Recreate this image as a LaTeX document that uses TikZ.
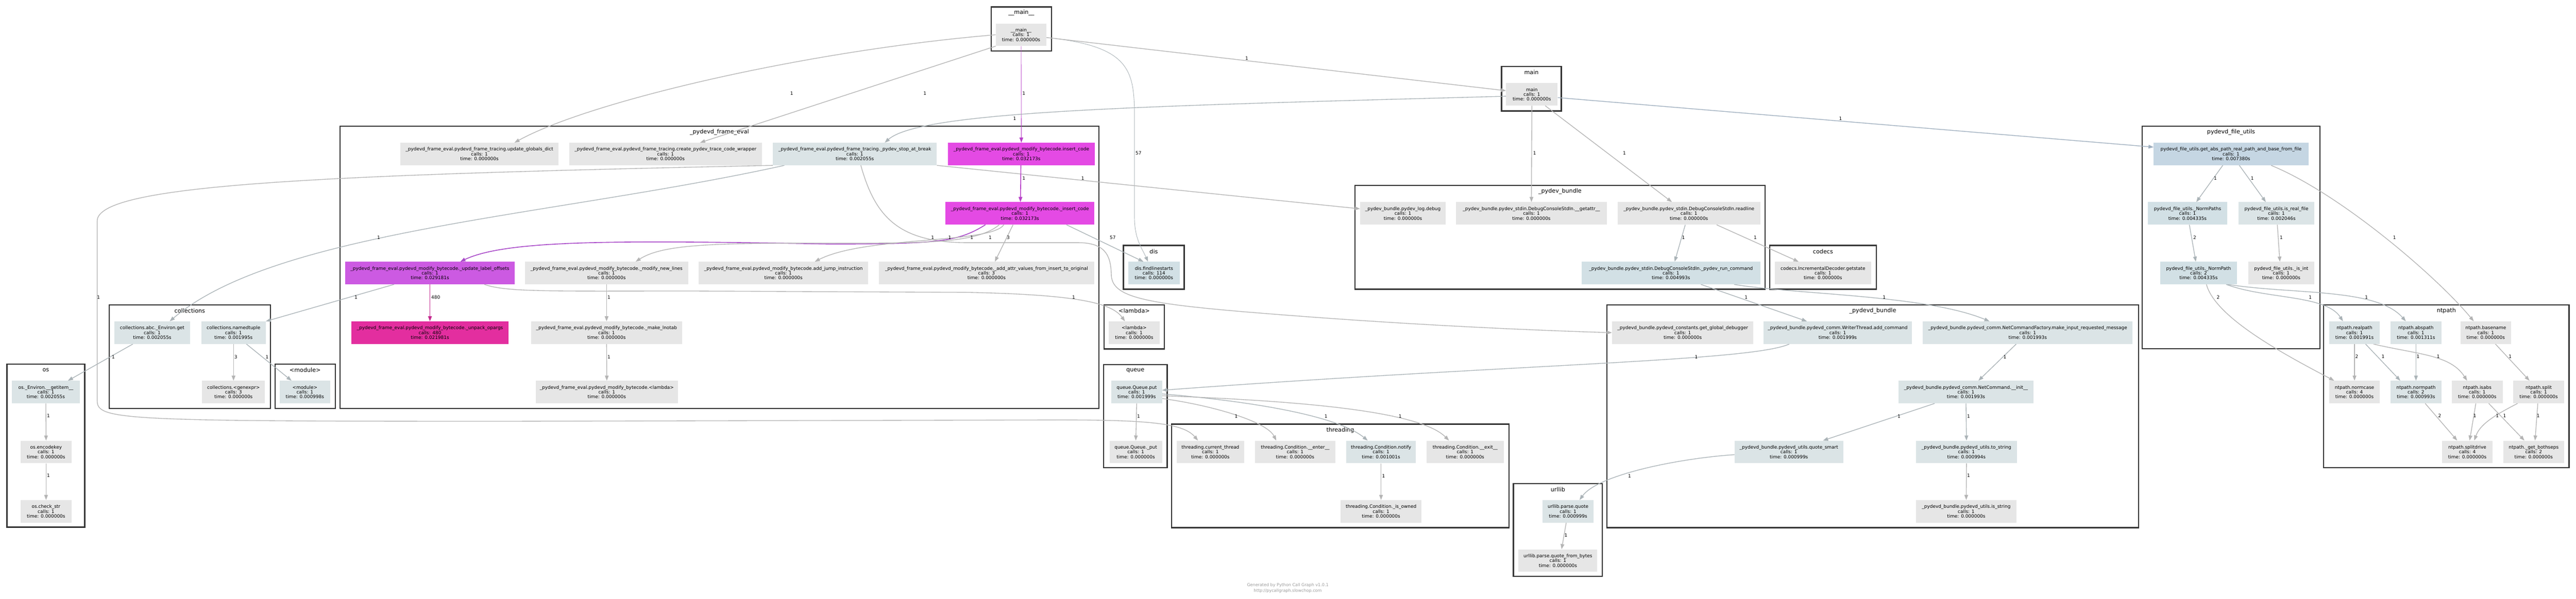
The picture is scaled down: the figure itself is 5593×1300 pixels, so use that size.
\documentclass[tikz,border=0pt]{standalone}
\usepackage{fontspec}
\setmainfont{DejaVu Sans}
\usetikzlibrary{arrows.meta}
\pgfdeclarelayer{bg}
\pgfsetlayers{bg,main}
\definecolor{cgrey}{HTML}{E6E6E6}
\definecolor{cbg}{HTML}{DBE4E6}
\definecolor{cbla}{HTML}{D2E0E5}
\definecolor{cblb}{HTML}{C5D6E3}
\definecolor{cmag}{HTML}{E44AE4}
\definecolor{cpur}{HTML}{CC5AE2}
\definecolor{cpink}{HTML}{E32E9F}
\definecolor{egc}{HTML}{B4B4B4}
\definecolor{ebgc}{HTML}{AAB3B7}
\definecolor{eblc}{HTML}{9DADBD}
\definecolor{emagc}{HTML}{B840C8}
\definecolor{epurc}{HTML}{A848C8}
\definecolor{epinkc}{HTML}{C4288E}
\definecolor{clc}{HTML}{333333}
\definecolor{footc}{HTML}{9A9A9A}
\newcommand{\cgNodeFont}{\fontsize{10}{10.5}\selectfont}
\newcommand{\cgClFont}{\fontsize{12.5}{14}\selectfont}
\newcommand{\cgElFont}{\fontsize{10}{12}\selectfont}
\newcommand{\cgFtFont}{\fontsize{9}{12}\selectfont}
\newcommand{\cgn}[8]{\node[cgbox,fill=#5,minimum width=#4pt] (#1) at (#2,#3) {#6\\calls: #7\\time: #8s};}
\newcommand{\cgc}[6]{\draw[clbox] (#2,#3) rectangle (#4,#5); \node[cllab] (#1) at ({(#2+#4)/2},{#3+13}) {#6};}
\newcommand{\cgl}[4]{\node[elab] (#1) at (#2,#3) {#4};}
\begin{document}
\begin{tikzpicture}[x=1pt,y=-1pt,
  cgbox/.style={rectangle,draw=none,minimum height=49pt,inner xsep=2pt,inner ysep=1pt,align=center,font=\cgNodeFont,text=black},
  clbox/.style={draw=clc,line width=2.6pt},
  cllab/.style={font=\cgClFont,inner sep=0pt,text=black},
  elab/.style={font=\cgElFont,inner sep=0pt,text=black},
  ed/.style={draw=egc,line width=1.5pt,-{Triangle[length=11pt,width=8pt]}},
  edb/.style={ed,draw=ebgc},
  edl/.style={ed,draw=eblc},
  edm/.style={ed,draw=emagc},
  edp/.style={ed,draw=epurc},
  edk/.style={ed,draw=epinkc},
  foot/.style={font=\cgFtFont,text=footc,align=center,inner sep=0pt}]
\useasboundingbox (0,0) rectangle (5593,1300);
% ---------- nodes ----------
\cgn{mainmain}{2217}{75.5}{110}{cgrey}{\_\_main\_\_}{1}{0.000000}
\cgn{main}{3326}{205}{112}{cgrey}{main}{1}{0.000000}
\cgn{ugd}{1041}{334.5}{344}{cgrey}{\_pydevd\_frame\_eval.pydevd\_frame\_tracing.update\_globals\_dict}{1}{0.000000}
\cgn{cptcw}{1445}{334.5}{418}{cgrey}{\_pydevd\_frame\_eval.pydevd\_frame\_tracing.create\_pydev\_trace\_code\_wrapper}{1}{0.000000}
\cgn{psab}{1856}{334.5}{356}{cbg}{\_pydevd\_frame\_eval.pydevd\_frame\_tracing.\_pydev\_stop\_at\_break}{1}{0.002055}
\cgn{ic}{2217.5}{334.5}{319}{cmag}{\_pydevd\_frame\_eval.pydevd\_modify\_bytecode.insert\_code}{1}{0.032173}
\cgn{icc}{2214.5}{463.5}{323}{cmag}{\_pydevd\_frame\_eval.pydevd\_modify\_bytecode.\_insert\_code}{1}{0.032173}
\cgn{ulo}{933.5}{593}{369}{cpur}{\_pydevd\_frame\_eval.pydevd\_modify\_bytecode.\_update\_label\_offsets}{1}{0.029181}
\cgn{mnl}{1317}{593}{354}{cgrey}{\_pydevd\_frame\_eval.pydevd\_modify\_bytecode.\_modify\_new\_lines}{1}{0.000000}
\cgn{aji}{1701}{593}{368}{cgrey}{\_pydevd\_frame\_eval.pydevd\_modify\_bytecode.add\_jump\_instruction}{1}{0.000000}
\cgn{aav}{2142}{593}{468}{cgrey}{\_pydevd\_frame\_eval.pydevd\_modify\_bytecode.\_add\_attr\_values\_from\_insert\_to\_original}{3}{0.000000}
\cgn{uo}{933.5}{722.5}{341}{cpink}{\_pydevd\_frame\_eval.pydevd\_modify\_bytecode.\_unpack\_opargs}{480}{0.021981}
\cgn{mlt}{1317}{722.5}{328}{cgrey}{\_pydevd\_frame\_eval.pydevd\_modify\_bytecode.\_make\_lnotab}{1}{0.000000}
\cgn{lam}{1317.5}{851.5}{309}{cgrey}{\_pydevd\_frame\_eval.pydevd\_modify\_bytecode.<lambda>}{1}{0.000000}
\cgn{dfl}{2505.5}{593}{111}{cbla}{dis.findlinestarts}{114}{0.000000}
\cgn{lamb}{2462.5}{722.5}{111}{cgrey}{<lambda>}{1}{0.000000}
\cgn{pld}{3046}{463.5}{186}{cgrey}{\_pydev\_bundle.pydev\_log.debug}{1}{0.000000}
\cgn{ga}{3325}{463.5}{328}{cgrey}{\_pydev\_bundle.pydev\_stdin.DebugConsoleStdIn.\_\_getattr\_\_}{1}{0.000000}
\cgn{rl}{3667}{463.5}{310}{cgrey}{\_pydev\_bundle.pydev\_stdin.DebugConsoleStdIn.readline}{1}{0.000000}
\cgn{prc}{3628}{593}{388}{cbla}{\_pydev\_bundle.pydev\_stdin.DebugConsoleStdIn.\_pydev\_run\_command}{1}{0.004993}
\cgn{cig}{3958}{593}{210}{cgrey}{codecs.IncrementalDecoder.getstate}{1}{0.000000}
\cgn{gap}{4844}{334.5}{336}{cblb}{pydevd\_file\_utils.get\_abs\_path\_real\_path\_and\_base\_from\_file}{1}{0.007380}
\cgn{nps}{4749.5}{463.5}{173}{cbla}{pydevd\_file\_utils.\_NormPaths}{1}{0.004335}
\cgn{irf}{4942.5}{463.5}{165}{cbg}{pydevd\_file\_utils.is\_real\_file}{1}{0.002046}
\cgn{np}{4773.5}{593}{167}{cbla}{pydevd\_file\_utils.\_NormPath}{2}{0.004335}
\cgn{ii}{4953}{593}{144}{cgrey}{pydevd\_file\_utils.\_is\_int}{1}{0.000000}
\cgn{eg}{330.5}{722.5}{165}{cbg}{collections.abc.\_Environ.get}{1}{0.002055}
\cgn{nt}{507}{722.5}{140}{cbg}{collections.namedtuple}{1}{0.001995}
\cgn{ge}{507}{851.5}{136}{cgrey}{collections.<genexpr>}{3}{0.000000}
\cgn{egi}{99.5}{851.5}{147}{cbg}{os.\_Environ.\_\_getitem\_\_}{1}{0.002055}
\cgn{ek}{100}{981.5}{110}{cgrey}{os.encodekey}{1}{0.000000}
\cgn{cs}{100}{1110.5}{110}{cgrey}{os.check\_str}{1}{0.000000}
\cgn{mod}{662}{851.5}{110}{cbg}{<module>}{1}{0.000998}
\cgn{qp}{2468}{851.5}{110}{cbg}{queue.Queue.put}{1}{0.001999}
\cgn{qpp}{2466}{981.5}{114}{cgrey}{queue.Queue.\_put}{1}{0.000000}
\cgn{ct}{2628}{981.5}{146}{cgrey}{threading.current\_thread}{1}{0.000000}
\cgn{ce}{2812}{981.5}{174}{cgrey}{threading.Condition.\_\_enter\_\_}{1}{0.000000}
\cgn{cn}{2998.5}{981.5}{151}{cbg}{threading.Condition.notify}{1}{0.001001}
\cgn{cx}{3181}{981.5}{168}{cgrey}{threading.Condition.\_\_exit\_\_}{1}{0.000000}
\cgn{cio}{2998.5}{1110.5}{175}{cgrey}{threading.Condition.\_is\_owned}{1}{0.000000}
\cgn{upq}{3404.5}{1110.5}{111}{cbg}{urllib.parse.quote}{1}{0.000999}
\cgn{upqb}{3382.5}{1217.5}{171}{cgrey}{urllib.parse.quote\_from\_bytes}{1}{0.000000}
\cgn{ggd}{3653.5}{722.5}{307}{cgrey}{\_pydevd\_bundle.pydevd\_constants.get\_global\_debugger}{1}{0.000000}
\cgn{wac}{3990}{722.5}{322}{cbg}{\_pydevd\_bundle.pydevd\_comm.WriterThread.add\_command}{1}{0.001999}
\cgn{mirm}{4402.5}{722.5}{455}{cbg}{\_pydevd\_bundle.pydevd\_comm.NetCommandFactory.make\_input\_requested\_message}{1}{0.001993}
\cgn{nci}{4268.5}{851.5}{293}{cbg}{\_pydevd\_bundle.pydevd\_comm.NetCommand.\_\_init\_\_}{1}{0.001993}
\cgn{qs}{3884}{981.5}{236}{cbg}{\_pydevd\_bundle.pydevd\_utils.quote\_smart}{1}{0.000999}
\cgn{ts}{4269.5}{981.5}{219}{cbg}{\_pydevd\_bundle.pydevd\_utils.to\_string}{1}{0.000994}
\cgn{iss}{4269}{1110.5}{218}{cgrey}{\_pydevd\_bundle.pydevd\_utils.is\_string}{1}{0.000000}
\cgn{rp}{5112}{722.5}{110}{cbg}{ntpath.realpath}{1}{0.001991}
\cgn{ap}{5245.5}{722.5}{111}{cbg}{ntpath.abspath}{1}{0.001311}
\cgn{bn}{5397}{722.5}{110}{cgrey}{ntpath.basename}{1}{0.000000}
\cgn{nc}{5112}{851.5}{110}{cgrey}{ntpath.normcase}{4}{0.000000}
\cgn{npth}{5245.5}{851.5}{111}{cbg}{ntpath.normpath}{2}{0.000993}
\cgn{ia}{5378.5}{851.5}{111}{cgrey}{ntpath.isabs}{1}{0.000000}
\cgn{sp}{5512}{851.5}{110}{cgrey}{ntpath.split}{1}{0.000000}
\cgn{sd}{5357}{981.5}{110}{cgrey}{ntpath.splitdrive}{4}{0.000000}
\cgn{gb}{5501}{981.5}{132}{cgrey}{ntpath.\_get\_bothseps}{2}{0.000000}
% ---------- clusters and edges ----------
\begin{pgfonlayer}{bg}
\fill[white] (0,0) rectangle (5593,1300);
\cgc{kmain}{2152}{15}{2283}{111}{\_\_main\_\_}
\cgc{kmn}{3260}{144}{3390}{241}{main}
\cgc{kfe}{738}{274}{2386}{887}{\_pydevd\_frame\_eval}
\cgc{kdis}{2439}{533}{2571}{628}{dis}
\cgc{klam}{2397}{662}{2528}{758}{<lambda>}
\cgc{kpb}{2942}{403}{3832}{628}{\_pydev\_bundle}
\cgc{kcod}{3842}{533}{4074}{628}{codecs}
\cgc{kfu}{4651}{274}{5037}{757}{pydevd\_file\_utils}
\cgc{kcol}{237}{662}{587}{887}{collections}
\cgc{kos}{15}{791}{184}{1145}{os}
\cgc{kmod}{597}{791}{728}{887}{<module>}
\cgc{kq}{2396}{792}{2534}{1016}{queue}
\cgc{kth}{2544}{921}{3276}{1146}{threading}
\cgc{kur}{3286}{1050}{3479}{1252}{urllib}
\cgc{kpdb}{3489}{662}{4643}{1146}{\_pydevd\_bundle}
\cgc{knt}{5045}{662}{5578}{1016}{ntpath}
% edges
\draw[ed] (mainmain.west) .. controls (1750,110) and (1280,220) .. ([xshift=76pt]ugd.north);
\draw[ed] (mainmain.south west) -- ([xshift=75pt]cptcw.north);
\draw[edm,line width=1pt] (mainmain.south) -- (ic.north);
\draw[edb,line width=1pt] ([yshift=-6pt]mainmain.east) .. controls (2450,100) and (2463,150) .. (2463,250) -- (2463,470) .. controls (2463,520) and (2480,540) .. ([xshift=-13pt]dfl.north);
\draw[ed] ([yshift=-6pt]mainmain.east) -- ([yshift=8pt]main.west);
\draw[edb] ([yshift=-4pt]main.west) .. controls (2500,230) and (2000,240) .. ([xshift=65pt]psab.north);
\draw[ed] (main.south) -- (ga.north);
\draw[ed] ([xshift=29pt]main.south) -- ([xshift=-37pt]rl.north);
\draw[edl] ([yshift=-7pt]main.east) -- ([yshift=15pt]gap.west);
\draw[ed] (psab.south east) -- ([yshift=10pt]pld.west);
\draw[edb] ([xshift=-153pt]psab.south) .. controls (1200,470) and (600,500) .. ([xshift=38pt]eg.north);
\draw[ed] (psab.south west) .. controls (700,380) and (211,400) .. (211,480) -- (211,870) .. controls (211,912) and (260,915) .. (1100,915) -- (2300,912) .. controls (2500,912) and (2570,920) .. ([xshift=-27pt]ct.north);
\draw[ed] ([xshift=13pt]psab.south) .. controls (1900,470) and (1950,527) .. (2100,527) -- (2340,527) .. controls (2405,527) and (2412,560) .. (2413,600) .. controls (2418,650) and (2500,662) .. (2800,685) .. controls (3100,708) and (3350,718) .. (ggd.west);
\draw[edm,line width=1.8pt] ([xshift=-1pt]ic.south) -- ([xshift=1pt]icc.north);
\draw[edp,line width=1.8pt] ([xshift=-75pt]icc.south) .. controls (2080,525) and (2040,530) .. (1800,530) .. controls (1350,522) and (1100,520) .. ([xshift=66pt]ulo.north);
\draw[ed] ([xshift=-45pt]icc.south) .. controls (2120,530) and (2000,528) .. (1800,528) .. controls (1550,528) and (1440,530) .. ([xshift=63pt]mnl.north);
\draw[ed] ([xshift=-35pt]icc.south) .. controls (2150,530) and (1880,512) .. ([xshift=68pt]aji.north);
\draw[ed] ([xshift=-15pt]icc.south) -- ([xshift=18pt]aav.north);
\draw[edb] ([xshift=101pt]icc.south) -- ([xshift=-23pt]dfl.north);
\draw[edk,line width=1.8pt] (ulo.south) -- (uo.north);
\draw[edb] ([xshift=-78pt]ulo.south) -- (nt.north east);
\draw[ed] ([xshift=118pt]ulo.south) .. controls (1100,635) and (1200,632) .. (1500,632) -- (2100,635) .. controls (2350,640) and (2415,660) .. ([xshift=-20pt]lamb.north);
\draw[ed] (mnl.south) -- (mlt.north);
\draw[ed] (mlt.south) -- (lam.north);
\draw[edb] ([xshift=-8pt]rl.south) -- ([xshift=8pt]prc.north);
\draw[ed] ([xshift=60pt]rl.south) -- ([xshift=-53pt]cig.north);
\draw[edb] ([xshift=65pt]prc.south) -- ([xshift=-67pt]wac.north);
\draw[edb] ([xshift=137pt]prc.south) .. controls (3900,640) and (4180,640) .. ([xshift=-83pt]mirm.north);
\draw[edb] ([xshift=-105pt]wac.south) .. controls (3800,785) and (3300,790) .. ([yshift=4pt]qp.east);
\draw[edb] ([xshift=-25pt]mirm.south) -- ([xshift=27pt]nci.north);
\draw[edb] ([xshift=-68pt]nci.south) -- ([xshift=74pt]qs.north);
\draw[edb] (nci.south) -- (ts.north);
\draw[ed] (ts.south) -- (iss.north);
\draw[edb] ([yshift=-6pt]qs.west) .. controls (3650,995) and (3470,1030) .. ([xshift=25pt]upq.north);
\draw[ed] ([xshift=-4pt]upq.south) -- ([xshift=8pt]upqb.north);
\draw[ed] (qp.south) -- (qpp.north);
\draw[ed] ([yshift=-14pt]qp.east) .. controls (2630,880) and (2750,915) .. ([xshift=-41pt]ce.north);
\draw[edb] ([yshift=-4pt]qp.east) .. controls (2700,870) and (2900,900) .. ([xshift=-29pt]cn.north);
\draw[ed] ([yshift=-8pt]qp.east) .. controls (2800,870) and (3080,890) .. ([xshift=-35pt]cx.north);
\draw[ed] (cn.south) -- (cio.north);
\draw[edb] ([xshift=-42pt]eg.south) -- ([xshift=48pt]egi.north);
\draw[ed] (nt.south) -- (ge.north);
\draw[edb] ([xshift=28pt]nt.south) -- ([xshift=-29pt]mod.north);
\draw[ed] (egi.south) -- (ek.north);
\draw[ed] (ek.south) -- (cs.north);
\draw[edb] ([xshift=-18pt]gap.south) -- ([xshift=19pt]nps.north);
\draw[edb] ([xshift=18pt]gap.south) -- ([xshift=-23pt]irf.north);
\draw[ed] ([xshift=87pt]gap.south) .. controls (5080,420) and (5290,600) .. ([xshift=-26pt]bn.north);
\draw[edb] ([xshift=4pt]nps.south) -- ([xshift=-6pt]np.north);
\draw[ed] ([xshift=2pt]irf.south) -- ([xshift=-3pt]ii.north);
\draw[ed] ([xshift=17pt]np.south) .. controls (4810,690) and (4960,770) .. ([xshift=-44pt]nc.north);
\draw[edb] ([xshift=60pt]np.south) .. controls (4920,650) and (5050,640) .. ([xshift=-25pt]rp.north);
\draw[edb] ([xshift=63pt]np.south) .. controls (4980,640) and (5160,625) .. ([xshift=-22pt]ap.north);
\draw[ed] (rp.south) -- (nc.north);
\draw[edb] ([xshift=24pt]rp.south) -- ([xshift=-34pt]npth.north);
\draw[edb] (ap.south) -- (npth.north);
\draw[ed] ([xshift=41pt]rp.south) .. controls (5250,770) and (5320,770) .. ([xshift=-22pt]ia.north);
\draw[ed] ([xshift=21pt]bn.south) -- ([xshift=-20pt]sp.north);
\draw[ed] ([xshift=20pt]npth.south) -- ([xshift=-22pt]sd.north);
\draw[ed] ([xshift=-3pt]ia.south) -- ([xshift=5pt]sd.north);
\draw[ed] ([xshift=-46pt]sp.south) .. controls (5420,900) and (5385,920) .. ([xshift=15pt]sd.north);
\draw[ed] ([xshift=25pt]ia.south) -- ([xshift=-20pt]gb.north);
\draw[ed] ([xshift=-2pt]sp.south) -- ([xshift=3pt]gb.north);
\end{pgfonlayer}
% ---------- edge labels ----------
\cgl{la}{1719}{203}{1}
\cgl{lb}{2008}{203}{1}
\cgl{lc}{2223}{203}{1}
\cgl{ld}{2472}{333}{57}
\cgl{le}{2707}{127}{1}
\cgl{lf}{2203}{258}{1}
\cgl{lg}{3332}{333}{1}
\cgl{lh}{3527}{333}{1}
\cgl{li}{3996}{258}{1}
\cgl{lj}{2351}{387}{1}
\cgl{lk}{822}{516}{1}
\cgl{ll}{214}{646}{1}
\cgl{lm}{2025}{516}{1}
\cgl{ln}{2223}{387}{1}
\cgl{lo}{2062}{516}{1}
\cgl{lp}{2110}{516}{1}
\cgl{lq}{2150}{516}{1}
\cgl{lr}{2189}{516}{3}
\cgl{ls}{2416}{516}{57}
\cgl{lt}{946}{646}{480}
\cgl{lu}{773}{646}{1}
\cgl{lv}{2331}{646}{1}
\cgl{lw}{1322}{646}{1}
\cgl{lx}{1322}{775}{1}
\cgl{ly}{3655}{516}{1}
\cgl{lz}{3811}{516}{1}
\cgl{lba}{3791}{646}{1}
\cgl{lbb}{4091}{646}{1}
\cgl{lbc}{3683}{775}{1}
\cgl{lbd}{4353}{775}{1}
\cgl{lbe}{4123}{904}{1}
\cgl{lbf}{4274}{904}{1}
\cgl{lbg}{4274}{1033}{1}
\cgl{lbh}{3538}{1034}{1}
\cgl{lbi}{3400}{1163}{1}
\cgl{lbj}{2472}{904}{1}
\cgl{lbk}{2684}{904}{1}
\cgl{lbl}{2879}{904}{1}
\cgl{lbm}{3040}{904}{1}
\cgl{lbn}{3004}{1034}{1}
\cgl{lbo}{246}{775}{1}
\cgl{lbp}{512}{775}{3}
\cgl{lbq}{580}{775}{1}
\cgl{lbr}{105}{903}{1}
\cgl{lbs}{105}{1033}{1}
\cgl{lbt}{4810}{387}{1}
\cgl{lbu}{4890}{387}{1}
\cgl{lbv}{5199}{516}{1}
\cgl{lbw}{4765}{516}{2}
\cgl{lbx}{4953}{516}{1}
\cgl{lby}{4816}{646}{2}
\cgl{lbz}{5016}{646}{1}
\cgl{lca}{5138}{646}{1}
\cgl{lcb}{5117}{774}{2}
\cgl{lcc}{5174}{774}{1}
\cgl{lcd}{5250}{774}{1}
\cgl{lce}{5294}{774}{1}
\cgl{lcf}{5450}{774}{1}
\cgl{lcg}{5297}{903}{2}
\cgl{lch}{5373}{903}{1}
\cgl{lci}{5422}{903}{1}
\cgl{lcj}{5438}{903}{1}
\cgl{lck}{5511}{903}{1}
% ---------- footer ----------
\node[foot] (footer) at (2796,1277) {Generated by Python Call Graph v1.0.1\\http://pycallgraph.slowchop.com};
\end{tikzpicture}
\end{document}
